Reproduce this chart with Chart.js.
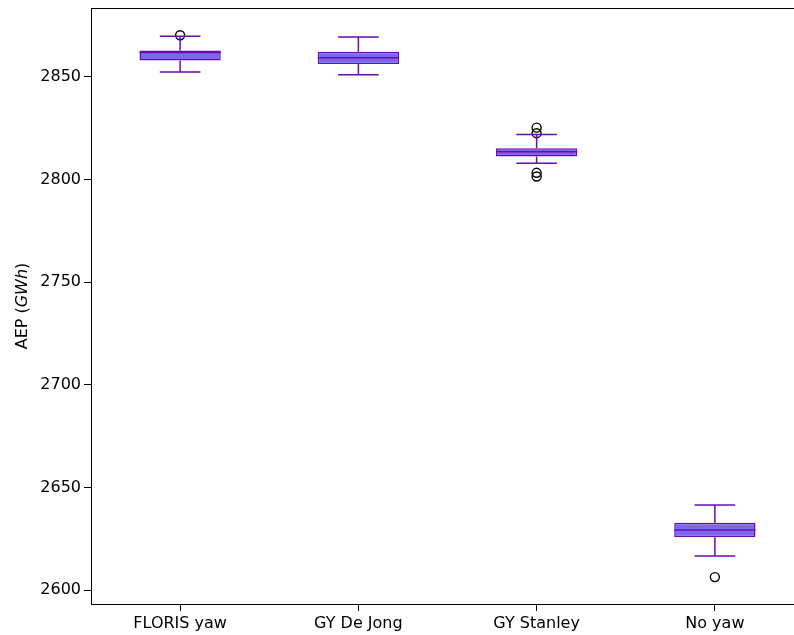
<!DOCTYPE html>
<html>
<head>
<meta charset="utf-8">
<script src="https://cdn.jsdelivr.net/npm/chart.js@4/dist/chart.umd.min.js"></script>
<style>
  html, body { margin: 0; padding: 0; background: #fff; overflow: hidden; }
  #wrap { width: 812px; height: 635px; position: relative; }
</style>
</head>
<body>
<div id="wrap"><canvas id="c" width="812" height="635"></canvas></div>
<script>
// ---- data ----
const categories  = ['FLORIS yaw', 'GY De Jong', 'GY Stanley', 'No yaw'];
const whiskerLow  = [2852.4, 2851.1, 2808.0, 2616.6];
const q1          = [2858.0, 2856.3, 2811.2, 2625.7];
const medians     = [2861.9, 2859.3, 2813.5, 2629.2];
const q3          = [2862.9, 2862.3, 2815.3, 2632.8];
const whiskerHigh = [2869.8, 2869.5, 2822.0, 2641.4];
const outlierCats = ['FLORIS yaw', 'GY Stanley', 'GY Stanley', 'GY Stanley', 'GY Stanley', 'No yaw'];
const outlierVals = [2870.3, 2825.3, 2822.6, 2803.3, 2801.5, 2606.3];
const yTicks      = [2600, 2650, 2700, 2750, 2800, 2850];

const BOX_FILL = '#7B68EE';
const BOX_EDGE = '#6a0dad';
const FONT = 'DejaVu Sans';
const BOX_FRAC = 0.456;

const extras = {
  id: 'boxExtras',
  afterDatasetsDraw(chart) {
    const ctx = chart.ctx, x = chart.scales.x, y = chart.scales.y;
    const catW = x.getPixelForValue(1) - x.getPixelForValue(0);
    const boxW = catW * BOX_FRAC;
    const capW = boxW / 2;
    ctx.save();
    ctx.strokeStyle = BOX_EDGE;
    ctx.lineWidth = 1.5;
    categories.forEach((c, i) => {
      const cx = x.getPixelForValue(i);
      const yl = y.getPixelForValue(whiskerLow[i]);
      const yq1 = y.getPixelForValue(q1[i]);
      const yq3 = y.getPixelForValue(q3[i]);
      const yh = y.getPixelForValue(whiskerHigh[i]);
      const ym = y.getPixelForValue(medians[i]);
      ctx.beginPath();
      ctx.moveTo(cx, yq1); ctx.lineTo(cx, yl);
      ctx.moveTo(cx, yq3); ctx.lineTo(cx, yh);
      ctx.moveTo(cx - capW / 2, yl); ctx.lineTo(cx + capW / 2, yl);
      ctx.moveTo(cx - capW / 2, yh); ctx.lineTo(cx + capW / 2, yh);
      ctx.moveTo(cx - boxW / 2, ym); ctx.lineTo(cx + boxW / 2, ym);
      ctx.stroke();
    });
    ctx.restore();
  },
  afterDraw(chart) {
    const ctx = chart.ctx, a = chart.chartArea;
    ctx.save();
    ctx.strokeStyle = '#000';
    ctx.lineWidth = 1;
    ctx.strokeRect(Math.round(a.left) + 0.5, Math.round(a.top) + 0.5,
                   Math.round(a.right - a.left), Math.round(a.bottom - a.top));
    const parts = [['AEP (', 'normal'], ['GWh', 'italic'], [')', 'normal']];
    let total = 0;
    parts.forEach(p => { ctx.font = p[1] + ' 16px "' + FONT + '"'; p.push(ctx.measureText(p[0]).width); total += p[2]; });
    ctx.translate(23, (a.top + a.bottom) / 2);
    ctx.rotate(-Math.PI / 2);
    ctx.fillStyle = '#000';
    ctx.textBaseline = 'middle';
    ctx.textAlign = 'left';
    let px = -total / 2;
    parts.forEach(p => { ctx.font = p[1] + ' 16px "' + FONT + '"'; ctx.fillText(p[0], px, 0); px += p[2]; });
    ctx.restore();
  }
};

new Chart(document.getElementById('c'), {
  type: 'bar',
  data: {
    labels: categories,
    datasets: [
      {
        label: 'IQR',
        data: categories.map((c, i) => [q1[i], q3[i]]),
        backgroundColor: BOX_FILL,
        borderColor: BOX_EDGE,
        borderWidth: 1.5,
        borderSkipped: false,
        categoryPercentage: 1,
        barPercentage: BOX_FRAC,
        order: 2
      },
      {
        type: 'line',
        label: 'Outliers',
        data: outlierCats.map((c, i) => ({ x: c, y: outlierVals[i] })),
        showLine: false,
        pointStyle: 'circle',
        pointRadius: 4.5,
        pointBorderWidth: 1.4,
        pointBackgroundColor: 'rgba(0,0,0,0)',
        pointBorderColor: '#000',
        order: 1
      }
    ]
  },
  options: {
    responsive: false,
    animation: false,
    events: [],
    layout: { padding: { top: 8, right: 8, left: 0, bottom: 0 } },
    plugins: { legend: { display: false }, tooltip: { enabled: false } },
    scales: {
      x: {
        type: 'category',
        offset: true,
        grid: { display: true, offset: false, drawOnChartArea: false, drawTicks: true, tickLength: 7, color: '#000', lineWidth: 1 },
        border: { display: false },
        ticks: { color: '#000', font: { family: FONT, size: 16 }, padding: 3, maxRotation: 0 },
        afterFit(s) { s.height = 31; s.paddingLeft = 0; s.paddingRight = 0; }
      },
      y: {
        type: 'linear',
        min: 2593.2,
        max: 2883.6,
        grid: { display: true, drawOnChartArea: false, drawTicks: true, tickLength: 7, color: '#000', lineWidth: 1 },
        border: { display: false },
        ticks: { color: '#000', font: { family: FONT, size: 16 }, padding: 3, callback: v => String(v) },
        afterBuildTicks(s) { s.ticks = yTicks.map(v => ({ value: v })); },
        afterFit(s) { s.width = 91; s.paddingTop = 0; s.paddingBottom = 0; }
      }
    }
  },
  plugins: [extras]
});
</script>
</body>
</html>
